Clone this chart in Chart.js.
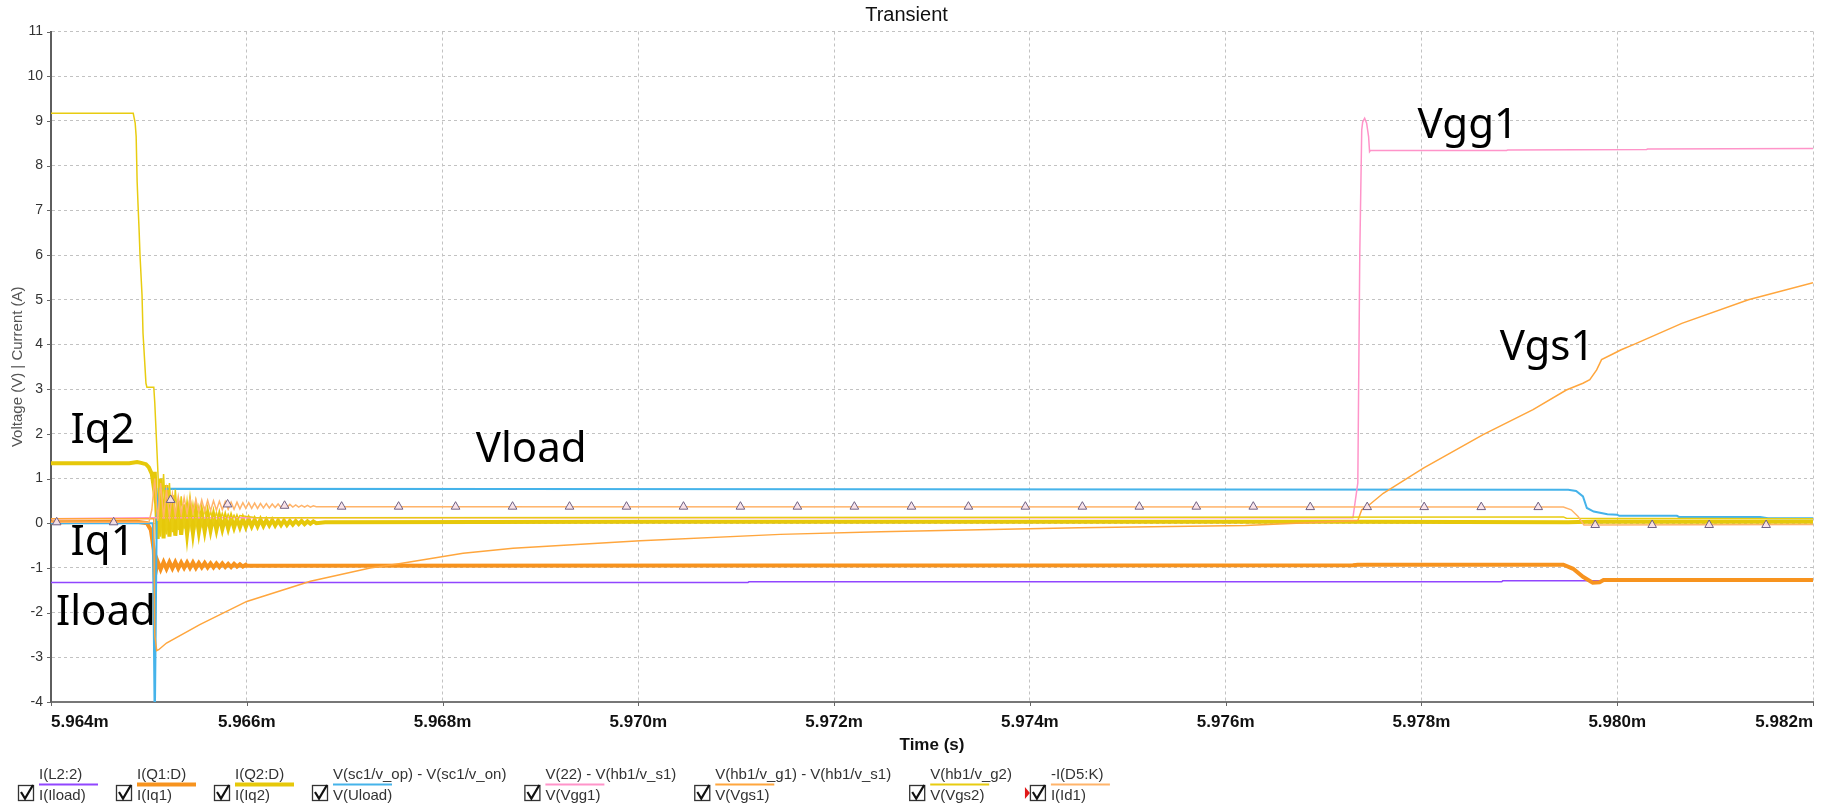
<!DOCTYPE html>
<html>
<head>
<meta charset="utf-8">
<title>Transient</title>
<script src="https://cdn.jsdelivr.net/npm/chart.js@4.4.1/dist/chart.umd.min.js"></script>
<style>
  html, body { margin: 0; padding: 0; background: #fff; overflow: hidden; }
  #wrap { position: relative; width: 1831px; height: 812px; }
</style>
</head>
<body>
<div id="wrap"><canvas id="transient"></canvas></div>
<script>
// time axis is in ms, labels get an "m" suffix
const timeTicks = [5.964, 5.966, 5.968, 5.970, 5.972, 5.974, 5.976, 5.978, 5.980, 5.982];
const valueTicks = [-4, -3, -2, -1, 0, 1, 2, 3, 4, 5, 6, 7, 8, 9, 10, 11];

// probe expression (top line) and alias (bottom line) of each trace
const traceNames = ['I(L2:2)', 'I(Q1:D)', 'I(Q2:D)', 'V(sc1/v_op) - V(sc1/v_on)',
  'V(22) - V(hb1/v_s1)', 'V(hb1/v_g1) - V(hb1/v_s1)', 'V(hb1/v_g2)', '-I(D5:K)'];
const traceAliases = ['I(Iload)', 'I(Iq1)', 'I(Iq2)', 'V(Uload)', 'V(Vgg1)', 'V(Vgs1)', 'V(Vgs2)', 'I(Id1)'];

// sample times of the ringing right after the switching edge
const ringT = [
  5.96506, 5.96509, 5.96512, 5.96515, 5.96518, 5.96521, 5.96524, 5.96527, 5.96530, 5.96533,
  5.96536, 5.96539, 5.96542, 5.96545, 5.96548, 5.96551, 5.96554, 5.96557, 5.96560, 5.96563,
  5.96566, 5.96569, 5.96572, 5.96575, 5.96578, 5.96581, 5.96584, 5.96587, 5.96590, 5.96593,
  5.96596, 5.96599, 5.96602, 5.96605, 5.96608, 5.96611, 5.96614, 5.96617, 5.96620, 5.96623,
  5.96626, 5.96629, 5.96632, 5.96635, 5.96638, 5.96641, 5.96644, 5.96647, 5.96650, 5.96653,
  5.96656, 5.96659, 5.96662, 5.96665, 5.96668, 5.96671
];

// I(Iload)
const iloadT = [5.964, 5.97112, 5.97113, 5.97882, 5.97883, 5.982];
const iloadV = [-1.325, -1.325, -1.31, -1.31, -1.29, -1.29];

// I(Iq1)
const iq1T = [5.964, 5.96488, 5.96498, 5.96502, 5.96505, ...ringT.slice(0, 32),
  5.966, 5.9773, 5.97735, 5.97945, 5.97955, 5.97965, 5.97975, 5.97982, 5.97986, 5.982];
const iq1V = [0.02, 0.03, 0.0, -0.15, -0.6,
  -1.19, -0.86, -1.03, -0.87, -1.02, -0.87, -1.01, -0.87, -1.01, -0.88,
  -1.0, -0.88, -1.0, -0.88, -1.0, -0.89, -0.99, -0.89, -0.99, -0.9,
  -0.99, -0.9, -0.98, -0.9, -0.98, -0.91, -0.98, -0.91, -0.97, -0.92,
  -0.97, -0.93,
  -0.95, -0.94, -0.93, -0.93, -1.02, -1.2, -1.33, -1.32, -1.27, -1.27];

// I(Iq2)
const iq2T = [5.964, 5.9648, 5.96488, 5.96492, 5.96497, 5.965, 5.96503, 5.96505, ...ringT,
  5.9668, 5.97, 5.9773, 5.9795, 5.9798, 5.982];
const iq2V = [1.34, 1.34, 1.37, 1.35, 1.32, 1.25, 1.1, 0.8,
  1.15, -0.35, 1.0, -0.34, 0.85, -0.3, 0.62, -0.28, 0.5, -0.26,
  0.42, -0.24, 0.35, -0.22, 0.28, -0.19, 0.22, -0.18, 0.2, -0.16,
  0.17, -0.15, 0.15, -0.13, 0.13, -0.12, 0.12, -0.1, 0.1, -0.09,
  0.1, -0.08, 0.09, -0.07, 0.08, -0.07, 0.08, -0.06, 0.07, -0.05,
  0.07, -0.05, 0.06, -0.04, 0.06, -0.04, 0.05, -0.03, 0.05, -0.02,
  0.05, -0.02, 0.04, -0.01, 0.04, 0.0,
  0.02, 0.03, 0.03, 0.02, 0.04, 0.03];

// V(Uload)
const uloadT = [5.964, 5.96504, 5.96506, 5.96508, 5.9651, 5.9795, 5.97958, 5.97965, 5.97969,
  5.97976, 5.9799, 5.98, 5.98002, 5.98061, 5.98063, 5.98146, 5.98154, 5.982];
const uloadV = [0.0, 0.0, -4.6, 0.1, 0.77, 0.75, 0.72, 0.6, 0.34,
  0.26, 0.2, 0.19, 0.165, 0.165, 0.14, 0.14, 0.11, 0.11];

// V(Vgg1)
const vgg1T = [5.964, 5.965, 5.9773, 5.97735, 5.97737, 5.97739, 5.9774, 5.97742, 5.97744,
  5.97746, 5.97747, 5.97748, 5.97887, 5.97888, 5.9803, 5.98031, 5.982];
const vgg1V = [0.1, 0.12, 0.12, 0.9, 6.0, 8.8, 8.98, 9.06, 8.95,
  8.65, 8.31, 8.34, 8.34, 8.35, 8.36, 8.37, 8.38];

// V(Vgs1)
const vgs1T = [5.964, 5.96505, 5.96506, 5.96508, 5.9651, 5.96518, 5.96552, 5.966, 5.96665,
  5.96726, 5.96757, 5.96821, 5.96872, 5.97002, 5.97145, 5.97247, 5.9745, 5.9762, 5.97735,
  5.97739, 5.97745, 5.97761, 5.97802, 5.97863, 5.97914, 5.97948, 5.97965, 5.97972, 5.97979,
  5.97984, 5.97996, 5.98004, 5.98016, 5.98066, 5.98134, 5.982];
const vgs1V = [0.1, 0.1, -2.5, -2.85, -2.83, -2.68, -2.27, -1.75, -1.3,
  -1.0, -0.9, -0.67, -0.56, -0.39, -0.25, -0.19, -0.1, -0.05, 0.06,
  0.3, 0.38, 0.67, 1.23, 1.98, 2.54, 2.98, 3.13, 3.21, 3.43,
  3.66, 3.79, 3.88, 3.99, 4.47, 5.0, 5.38];

// V(Vgs2)
const vgs2T = [5.964, 5.96484, 5.96486, 5.96487, 5.96488, 5.96489, 5.9649, 5.96491, 5.96493,
  5.96494, 5.96497, 5.96498, 5.96505, ...ringT.slice(0, 30), 5.9661, 5.97945, 5.97948, 5.982];
const vgs2V = [9.17, 9.17, 8.95, 8.65, 7.64, 7.08, 6.56, 5.96, 5.1,
  4.25, 3.13, 3.04, 3.04,
  2.7, 1.25, -0.3, 1.1, -0.25, 0.9, -0.2, 0.75, -0.15, 0.6,
  -0.12, 0.5, -0.08, 0.42, -0.05, 0.36, -0.03, 0.31, -0.01, 0.27,
  0.0, 0.24, 0.02, 0.22, 0.04, 0.2, 0.05, 0.18, 0.06, 0.17,
  0.12, 0.14, 0.11, 0.1];

// I(Id1)
const id1T = [5.964, 5.965, 5.96503, ...ringT,
  5.967, 5.97935, 5.97945, 5.97953, 5.9796, 5.97966, 5.982];
const id1V = [0.02, 0.02, 0.3,
  1.0, 0.05, 0.9, 0.12, 0.75, 0.15, 0.65, 0.18, 0.6, 0.2,
  0.57, 0.22, 0.55, 0.24, 0.53, 0.25, 0.52, 0.27, 0.51, 0.28,
  0.5, 0.29, 0.49, 0.3, 0.48, 0.31, 0.47, 0.31, 0.47, 0.32,
  0.46, 0.33, 0.46, 0.33, 0.45, 0.33, 0.44, 0.34, 0.44, 0.34,
  0.43, 0.35, 0.43, 0.35, 0.42, 0.35, 0.42, 0.36, 0.41, 0.36,
  0.4, 0.36, 0.4, 0.36, 0.39, 0.37,
  0.37, 0.36, 0.36, 0.3, 0.15, -0.04, -0.03];

// symbol markers along I(Id1)
const id1MarkT = [5.964058, 5.96464, 5.965222, 5.965804, 5.966386, 5.966969, 5.967551, 5.968133,
  5.968715, 5.969297, 5.969879, 5.970461, 5.971043, 5.971625, 5.972207, 5.97279, 5.973372,
  5.973954, 5.974536, 5.975118, 5.9757, 5.976282, 5.976864, 5.977446, 5.978028, 5.978611,
  5.979193, 5.979775, 5.980357, 5.980939, 5.981521];
const id1MarkV = [0.02, 0.02, 0.52, 0.42, 0.39, 0.37, 0.37, 0.37,
  0.37, 0.37, 0.37, 0.37, 0.37, 0.37, 0.37, 0.37, 0.37,
  0.37, 0.37, 0.37, 0.37, 0.37, 0.36, 0.36, 0.36, 0.36,
  0.36, -0.04, -0.04, -0.04, -0.04];

// big hand-placed trace names inside the plot
const noteText = ['Vgg1', 'Vgs1', 'Vload', 'Iq2', 'Iq1', 'Iload'];
const noteTime = [5.97796, 5.9788, 5.96834, 5.96420, 5.96420, 5.96405];
const noteVal = [8.61, 3.64, 1.37, 1.79, -0.71, -2.27];

const FONT = '"Liberation Sans", Arial, sans-serif';

const traces = [
  { t: iloadT, v: iloadV, color: '#9146ff', width: 1.5 },
  { t: iq1T, v: iq1V, color: '#f7931e', width: 4 },
  { t: iq2T, v: iq2V, color: '#e6c80a', width: 4 },
  { t: uloadT, v: uloadV, color: '#45b3ea', width: 2 },
  { t: vgg1T, v: vgg1V, color: '#ff94c9', width: 1.5 },
  { t: vgs1T, v: vgs1V, color: '#ffa63d', width: 1.5 },
  { t: vgs2T, v: vgs2V, color: '#e8cc10', width: 1.5 },
  { t: id1T, v: id1V, color: '#ffb46a', width: 1.5 }
];

const toPoints = (t, v) => t.map((x, i) => ({ x: x, y: v[i] }));

const datasets = traces.map((tr, i) => ({
  label: traceAliases[i],
  data: toPoints(tr.t, tr.v),
  borderColor: tr.color,
  backgroundColor: tr.color,
  borderWidth: tr.width,
  pointRadius: 0,
  fill: false,
  tension: 0,
  order: 20 - i   // later traces sit on top
}));

datasets.push({
  label: 'I(Id1) symbols',
  data: toPoints(id1MarkT, id1MarkV),
  showLine: false,
  pointStyle: 'triangle',
  pointRadius: 5,
  pointBorderWidth: 1,
  pointBorderColor: '#6f6082',
  pointBackgroundColor: 'rgba(248, 226, 236, 0.9)',
  order: 0
});

// short tick marks outside the axes
const tickMarks = {
  id: 'tickMarks',
  afterDraw(chart) {
    const { ctx, chartArea: a, scales: { x, y } } = chart;
    ctx.save();
    ctx.strokeStyle = '#666';
    ctx.lineWidth = 1;
    ctx.beginPath();
    x.ticks.forEach(t => {
      const px = Math.round(x.getPixelForValue(t.value)) + 0.5;
      ctx.moveTo(px, a.bottom);
      ctx.lineTo(px, a.bottom + 4);
    });
    y.ticks.forEach(t => {
      const py = Math.round(y.getPixelForValue(t.value)) + 0.5;
      ctx.moveTo(a.left - 4, py);
      ctx.lineTo(a.left, py);
    });
    ctx.stroke();
    ctx.restore();
  }
};

// large labels next to the traces
const traceNotes = {
  id: 'traceNotes',
  afterDatasetsDraw(chart) {
    const { ctx, scales: { x, y } } = chart;
    ctx.save();
    ctx.font = '42px "Noto Sans", "Open Sans", sans-serif';
    ctx.fillStyle = '#000';
    ctx.textBaseline = 'alphabetic';
    noteText.forEach((txt, i) => {
      ctx.fillText(txt, x.getPixelForValue(noteTime[i]), y.getPixelForValue(noteVal[i]));
    });
    ctx.restore();
  }
};

// probe legend: check box, expression, colour key, alias
const traceLegend = {
  id: 'traceLegend',
  afterDraw(chart) {
    const ctx = chart.ctx;
    const keyW = 59;
    ctx.save();
    ctx.font = '15px ' + FONT;
    ctx.textBaseline = 'alphabetic';
    let x = 39;
    traceNames.forEach((name, i) => {
      const ds = chart.data.datasets[i];
      const w = Math.max(ctx.measureText(name).width, ctx.measureText(traceAliases[i]).width, keyW);

      ctx.fillStyle = '#333';
      ctx.fillText(name, x, 779);
      ctx.fillText(traceAliases[i], x, 800);

      ctx.strokeStyle = ds.borderColor;
      ctx.lineWidth = ds.borderWidth >= 3 ? 4 : 2;
      ctx.beginPath();
      ctx.moveTo(x, 784.5);
      ctx.lineTo(x + keyW, 784.5);
      ctx.stroke();

      // check box
      ctx.strokeStyle = '#333';
      ctx.lineWidth = 1.3;
      ctx.strokeRect(x - 20.5, 785.5, 15, 15);
      ctx.strokeStyle = '#111';
      ctx.lineWidth = 2.2;
      ctx.beginPath();
      ctx.moveTo(x - 18, 792);
      ctx.lineTo(x - 14, 798.5);
      ctx.lineTo(x - 6, 785);
      ctx.stroke();

      // selected trace pointer
      if (i === traceNames.length - 1) {
        ctx.fillStyle = '#e01818';
        ctx.beginPath();
        ctx.moveTo(x - 26, 787);
        ctx.lineTo(x - 21, 793);
        ctx.lineTo(x - 26, 799);
        ctx.closePath();
        ctx.fill();
      }
      x += w + 39;
    });
    ctx.restore();
  }
};

new Chart(document.getElementById('transient'), {
  type: 'line',
  data: { datasets: datasets },
  options: {
    responsive: true,
    maintainAspectRatio: false,
    animation: false,
    events: [],
    layout: { padding: { left: 0, right: 18, top: 0, bottom: 0 } },
    plugins: {
      legend: { display: false },
      tooltip: { enabled: false },
      title: {
        display: true,
        text: 'Transient',
        color: '#111',
        font: { family: FONT, size: 20, weight: 'normal' },
        padding: { top: 3, bottom: 4.5 }
      }
    },
    scales: {
      x: {
        type: 'linear',
        min: 5.964,
        max: 5.982,
        afterBuildTicks: s => { s.ticks = timeTicks.map(v => ({ value: v })); },
        afterFit: s => { s.height = 110; },
        ticks: {
          align: 'inner',
          autoSkip: false,
          maxRotation: 0,
          padding: 10,
          color: '#111',
          font: { family: FONT, size: 17, weight: 'bold' },
          callback: v => v.toFixed(3) + 'm'
        },
        grid: { color: '#c2c2c2', lineWidth: 1, drawTicks: false },
        border: { color: '#777', width: 2, dash: [3, 3] },
        title: {
          display: true,
          text: 'Time (s)',
          color: '#111',
          font: { family: FONT, size: 17, weight: 'bold' },
          padding: { top: 0, bottom: 56 }
        }
      },
      y: {
        type: 'linear',
        min: -4,
        max: 11,
        afterBuildTicks: s => { s.ticks = valueTicks.map(v => ({ value: v })); },
        afterFit: s => { s.width = 51; },
        ticks: {
          padding: 8,
          color: '#333',
          font: { family: FONT, size: 14 }
        },
        grid: { color: '#c2c2c2', lineWidth: 1, drawTicks: false },
        border: { color: '#5e5e5e', width: 2, dash: [3, 3] },
        title: {
          display: true,
          text: 'Voltage (V) | Current (A)',
          color: '#555',
          font: { family: FONT, size: 15 },
          padding: { top: 9, bottom: 0 }
        }
      }
    }
  },
  plugins: [tickMarks, traceNotes, traceLegend]
});
</script>
</body>
</html>
